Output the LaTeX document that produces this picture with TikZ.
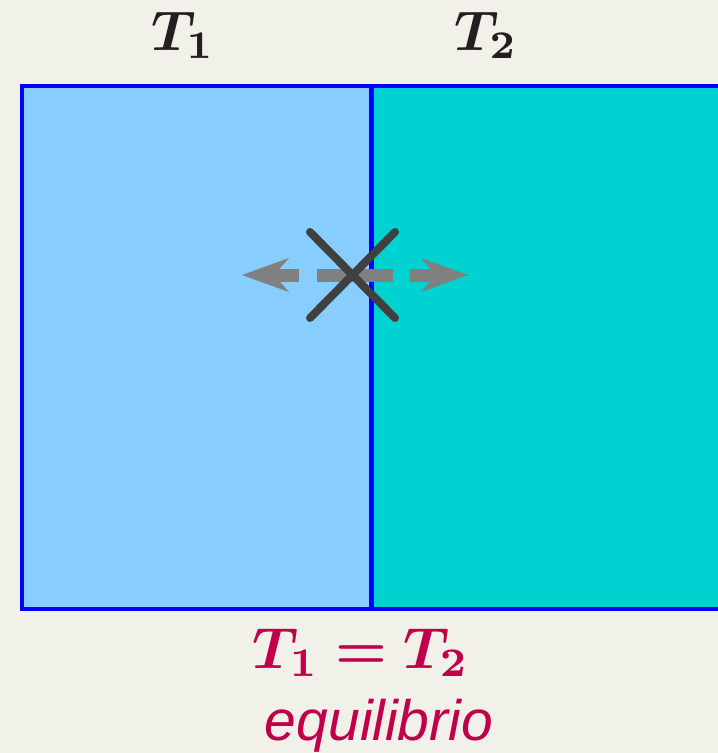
\documentclass[tikz,border=0pt]{standalone}
\usepackage{graphicx}
\usepackage{bm}
\usepackage{fontspec}
\newfontfamily\labelsans{Liberation Sans}
\definecolor{bgcol}{HTML}{F1F0E9}
\definecolor{leftfill}{HTML}{87CEFF}
\definecolor{rightfill}{HTML}{00D2D2}
\definecolor{borderblue}{HTML}{0000FF}
\definecolor{arrowgray}{HTML}{808080}
\definecolor{crossgray}{HTML}{404040}
\definecolor{labeldark}{HTML}{231F20}
\definecolor{eqred}{HTML}{C0004A}
\tikzset{
  toplabel/.style={anchor=base, text=labeldark, inner sep=0pt},
  eqlabel/.style={anchor=base, text=eqred, inner sep=0pt},
  dashseg/.style={draw=arrowgray, line width=13pt},
  headfill/.style={fill=arrowgray},
  crossline/.style={draw=crossgray, line width=8pt, line cap=round},
}
\begin{document}
\begin{tikzpicture}[x=1pt,y=-1pt]
\useasboundingbox (0,0) rectangle (718,753);
\fill[bgcol] (0,0) rectangle (718,753);
% containers
\fill[leftfill] (22,86) rectangle (371,609);
\fill[rightfill] (371,86) rectangle (720,609);
\draw[borderblue, line width=4pt] (22,86) rectangle (720,609);
\draw[borderblue, line width=5pt] (371,86) -- (371,609);
% dashed double arrow
\draw[dashseg] (274,275) -- (299,275);
\draw[dashseg] (317,275) -- (393,275);
\draw[dashseg] (410,275) -- (436,275);
\fill[headfill] (242,275) -- (289,258) -- (274,275) -- (289,292) -- cycle;
\fill[headfill] (468,275) -- (421,258) -- (436,275) -- (421,292) -- cycle;
% cross
\draw[crossline] (310,232) -- (395,318);
\draw[crossline] (310,318) -- (395,232);
% labels
\node[toplabel] (t1) at (183,50) {\scalebox{5.6}{$\bm{T_1}$}};
\node[toplabel] (t2) at (486,50) {\scalebox{5.6}{$\bm{T_2}$}};
\node[eqlabel] (eqn) at (361,668) {\scalebox{5.8}{$\bm{T_1}\bm{=}\bm{T_2}$}};
\node[anchor=base, text=eqred, inner sep=0pt, font=\labelsans\itshape\fontsize{57}{68}\selectfont] (eqw) at (379,740) {equilibrio};
\end{tikzpicture}
\end{document}
